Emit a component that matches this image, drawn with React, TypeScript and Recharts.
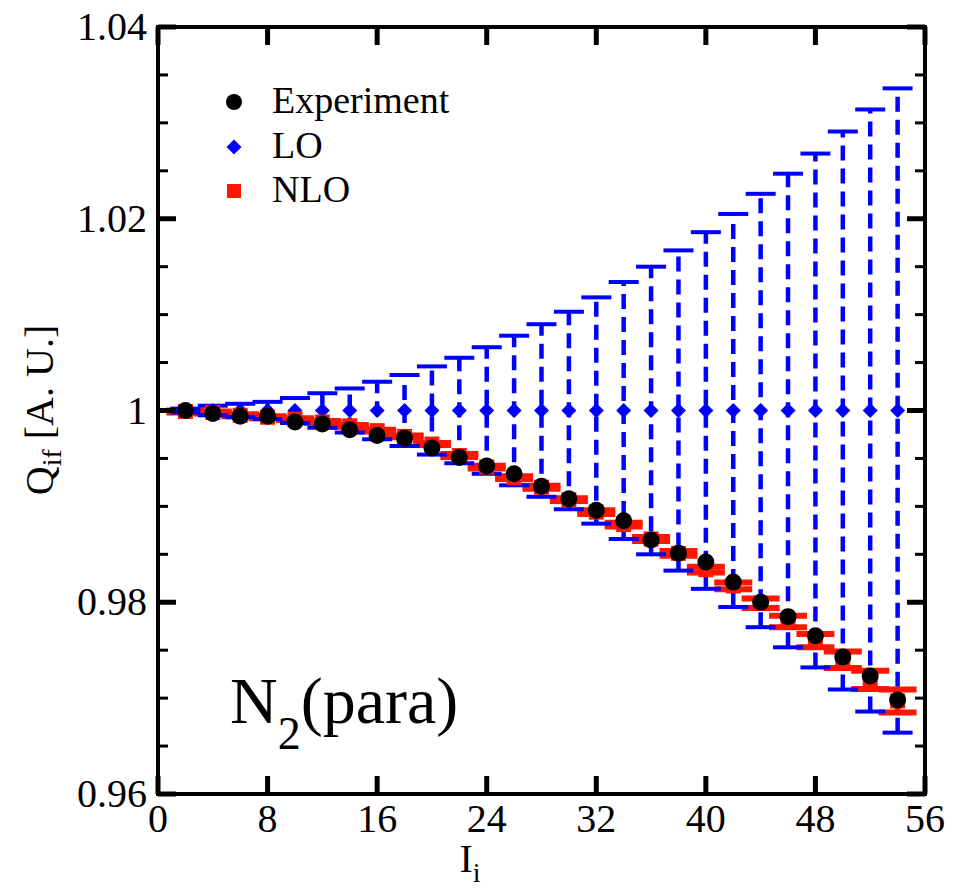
import { ScatterChart, Scatter, XAxis, YAxis, ErrorBar, Legend } from 'recharts';

const FONT = '"Liberation Serif", "Times New Roman", serif';
const BLUE = '#0000ff';
const RED = '#ff1500';

// rotational quantum number I_i
const J = [2, 4, 6, 8, 10, 12, 14, 16, 18, 20, 22, 24, 26, 28, 30, 32, 34, 36, 38, 40, 42, 44, 46, 48, 50, 52, 54];

const EXPERIMENT = [
  1.0, 0.9997, 0.9994, 0.9994, 0.9988, 0.9986, 0.998, 0.9974, 0.9971, 0.9961, 0.9951, 0.9942, 0.9934, 0.9921,
  0.9908, 0.9896, 0.9885, 0.9865, 0.9851, 0.9842, 0.9821, 0.98, 0.9785, 0.9765, 0.9743, 0.9723, 0.9698,
];

const LO = [1, 1, 1, 1, 1, 1, 1, 1, 1, 1, 1, 1, 1, 1, 1, 1, 1, 1, 1, 1, 1, 1, 1, 1, 1, 1, 1];
const LO_ERR = [
  0.0002, 0.0005, 0.0007, 0.0009, 0.0013, 0.0018, 0.0023, 0.003, 0.0037, 0.0046, 0.0055, 0.0066, 0.0078, 0.009,
  0.0103, 0.0118, 0.0134, 0.015, 0.0167, 0.0186, 0.0205, 0.0226, 0.0247, 0.0268, 0.0291, 0.0314, 0.0336,
];

const NLO = [
  0.9999, 0.9998, 0.9995, 0.9993, 0.9991, 0.9988, 0.9984, 0.9979, 0.9973, 0.9965, 0.9953, 0.9941, 0.993, 0.992,
  0.9907, 0.9894, 0.9881, 0.9866, 0.9851, 0.9834, 0.9817, 0.9799, 0.978, 0.976, 0.974, 0.9719, 0.9697,
];
const NLO_ERR = [
  0.0001, 0.0001, 0.0001, 0.0001, 0.0001, 0.0001, 0.0001, 0.0001, 0.0001, 0.0001, 0.00015, 0.00015, 0.00015, 0.00015,
  0.00015, 0.0002, 0.0002, 0.0002, 0.00025, 0.0003, 0.00035, 0.0005, 0.0006, 0.0007, 0.00087, 0.00096, 0.0012,
];

const X_TICKS = [0, 8, 16, 24, 32, 40, 48, 56];
const Y_TICKS = [
  0.96, 0.965, 0.97, 0.975, 0.98, 0.985, 0.99, 0.995, 1, 1.005, 1.01, 1.015, 1.02, 1.025, 1.03, 1.035, 1.04,
];
const Y_LABELS = [0.96, 0.98, 1, 1.02, 1.04];

const LEGEND_ITEMS = ['Experiment', 'LO', 'NLO'];

const expData = J.map((x, i) => ({ x, y: EXPERIMENT[i] }));
const loData = J.map((x, i) => ({ x, y: LO[i], err: LO_ERR[i] }));
const loCaps = loData.flatMap((d) => [
  { x: d.x, y: d.y + d.err },
  { x: d.x, y: d.y - d.err },
]);
const nloData = J.map((x, i) => ({ x, y: NLO[i], err: NLO_ERR[i] }));

const isMajor = (v: number) => Y_LABELS.some((m) => Math.abs(m - v) < 1e-9);

const BottomTick = (props: any) => {
  const { x, y, payload } = props;
  return (
    <g>
      <line x1={x} y1={y} x2={x} y2={y - 18} stroke="#000" strokeWidth={5} />
      <text x={x} y={y + 38} textAnchor="middle" fontSize={40} fontFamily={FONT} fill="#000">
        {payload.value}
      </text>
    </g>
  );
};

const TopTick = (props: any) => {
  const { x, y } = props;
  return <line x1={x} y1={y} x2={x} y2={y + 18} stroke="#000" strokeWidth={5} />;
};

const LeftTick = (props: any) => {
  const { x, y, payload } = props;
  const major = isMajor(payload.value);
  return (
    <g>
      <line x1={x} y1={y} x2={x + (major ? 18 : 10)} y2={y} stroke="#000" strokeWidth={major ? 5 : 3} />
      {major && (
        <text x={x - 11} y={y + 13} textAnchor="end" fontSize={40} fontFamily={FONT} fill="#000">
          {String(payload.value)}
        </text>
      )}
    </g>
  );
};

const RightTick = (props: any) => {
  const { x, y, payload } = props;
  const major = isMajor(payload.value);
  return <line x1={x} y1={y} x2={x - (major ? 18 : 10)} y2={y} stroke="#000" strokeWidth={major ? 5 : 3} />;
};

const Dot = (props: any) => <circle cx={props.cx} cy={props.cy} r={8.5} fill="#000" />;
const Diamond = (props: any) => {
  const { cx, cy } = props;
  return <path d={`M${cx},${cy - 7.5}L${cx + 7.5},${cy}L${cx},${cy + 7.5}L${cx - 7.5},${cy}Z`} fill={BLUE} />;
};
const Square = (props: any) => <rect x={props.cx - 7.5} y={props.cy - 7.5} width={15} height={15} fill={RED} />;
const Cap = (props: any) => (
  <line x1={props.cx - 15} y1={props.cy} x2={props.cx + 15} y2={props.cy} stroke={BLUE} strokeWidth={4} />
);

const legendIcon = (name: string, cy: number) => {
  if (name === 'Experiment') return <circle cx={19} cy={cy} r={8} fill="#000" />;
  if (name === 'LO') return <path d={`M19,${cy - 7.5}L26.5,${cy}L19,${cy + 7.5}L11.5,${cy}Z`} fill={BLUE} />;
  return <rect x={12} y={cy - 7} width={14} height={14} fill={RED} />;
};

const LegendBox = () => {
  const baselines = [38, 83, 127];
  return (
    <svg width={300} height={145}>
      {LEGEND_ITEMS.map((name, i) => (
        <g key={name}>
          {legendIcon(name, baselines[i] - 11)}
          <text x={57} y={baselines[i]} fontSize={38} fontFamily={FONT} fill="#000">
            {name}
          </text>
        </g>
      ))}
    </svg>
  );
};

const frame = { stroke: '#000', strokeWidth: 4, strokeLinecap: 'square' as const };

export default function App() {
  return (
    <div style={{ position: 'absolute', left: 0, top: 0, background: '#fff' }}>
      <ScatterChart width={953} height={889} margin={{ top: 0, right: 0, bottom: 0, left: 0 }}>
        <XAxis
          xAxisId={0}
          type="number"
          dataKey="x"
          domain={[0, 56]}
          ticks={X_TICKS}
          interval={0}
          height={95}
          tickSize={0}
          tickMargin={0}
          tickLine={false}
          axisLine={frame}
          tick={<BottomTick />}
          allowDataOverflow
        />
        <XAxis
          xAxisId="top"
          orientation="top"
          type="number"
          dataKey="x"
          domain={[0, 56]}
          ticks={X_TICKS}
          interval={0}
          height={27}
          tickSize={0}
          tickMargin={0}
          tickLine={false}
          axisLine={frame}
          tick={<TopTick />}
          allowDataOverflow
        />
        <YAxis
          yAxisId={0}
          type="number"
          dataKey="y"
          domain={[0.96, 1.04]}
          ticks={Y_TICKS}
          interval={0}
          width={158}
          tickSize={0}
          tickMargin={0}
          tickLine={false}
          axisLine={frame}
          tick={<LeftTick />}
          allowDataOverflow
        />
        <YAxis
          yAxisId="right"
          orientation="right"
          type="number"
          dataKey="y"
          domain={[0.96, 1.04]}
          ticks={Y_TICKS}
          interval={0}
          width={28}
          tickSize={0}
          tickMargin={0}
          tickLine={false}
          axisLine={frame}
          tick={<RightTick />}
          allowDataOverflow
        />
        <Scatter name="LO" data={loData} shape={<Diamond />} isAnimationActive={false}>
          <ErrorBar dataKey="err" direction="y" width={0} stroke={BLUE} strokeWidth={4.5} strokeDasharray="15 8" />
        </Scatter>
        <Scatter name="LO caps" data={loCaps} shape={<Cap />} isAnimationActive={false} legendType="none" />
        <Scatter name="NLO" data={nloData} shape={<Square />} isAnimationActive={false}>
          <ErrorBar dataKey="err" direction="y" width={19} stroke={RED} strokeWidth={6} />
        </Scatter>
        <Scatter name="Experiment" data={expData} shape={<Dot />} isAnimationActive={false} />
        <Legend
          layout="vertical"
          align="center"
          verticalAlign="middle"
          wrapperStyle={{ left: 215, top: 75, width: 300, height: 145 }}
          content={() => <LegendBox />}
        />
        <text transform="translate(53, 410) rotate(-90)" textAnchor="middle" fontSize={40} fontFamily={FONT} fill="#000">
          Q<tspan fontSize={28} dy={8}>if</tspan>
          <tspan dy={-8}> [A. U.]</tspan>
        </text>
        <text x={470} y={872} textAnchor="middle" fontSize={40} fontFamily={FONT} fill="#000">
          I<tspan fontSize={28} dy={10}>i</tspan>
        </text>
        <text x={230} y={723} fontSize={66} fontFamily={FONT} fill="#000">
          N<tspan fontSize={46} dy={26}>2</tspan>
          <tspan dy={-26}>(para)</tspan>
        </text>
      </ScatterChart>
    </div>
  );
}
